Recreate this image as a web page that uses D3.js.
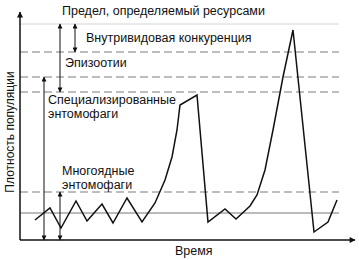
<!DOCTYPE html>
<html>
<head>
<meta charset="utf-8">
<script src="https://cdn.jsdelivr.net/npm/d3@7"></script>
<style>
  body { margin: 0; background: #fff; }
  text { font-family: "Liberation Sans", Arial, sans-serif; fill: #111; }
</style>
</head>
<body>
<script>
// time points and population density (arbitrary units)
var time    = [15, 30, 41, 56, 67, 82, 93, 107, 122, 135, 145, 152, 157, 160, 177, 188, 205, 216, 230, 237, 245, 253, 263, 273, 294, 308, 317];
var density = [20, 32, 12, 39, 19, 36, 17, 42, 18, 37, 60, 83, 110, 135, 145, 18, 31, 21, 34, 45, 70, 110, 163, 210, 8, 18, 40];

// reference levels
var levelLimit   = 216;   // limit set by resources
var levelDashed  = [188, 163, 148, 48];
var levelLow     = 27;

// range arrows: [time, from, to]
var rangeArrows = [[55, 216, 188], [40, 216, 148], [24, 163, 0], [40, 48, 0]];

var labels = [
  {t: 42, d: 225, s: "Предел, определяемый ресурсами"},
  {t: 66, d: 198, s: "Внутривидовая конкуренция"},
  {t: 45, d: 173, s: "Эпизоотии"},
  {t: 28, d: 136, s: "Специализированные"},
  {t: 28, d: 122, s: "энтомофаги"},
  {t: 42, d: 65, s: "Многоядные"},
  {t: 42, d: 51, s: "энтомофаги"}
];

var W = 359, H = 260;
var x = d3.scaleLinear().domain([0, 335]).range([20, 355]);
var y = d3.scaleLinear().domain([0, 230]).range([240, 10]);
var xEnd = x(319);

var svg = d3.select("body").append("svg").attr("width", W).attr("height", H);

var defs = svg.append("defs");
defs.append("marker").attr("id", "big")
  .attr("viewBox", "0 0 10 10").attr("refX", 9).attr("refY", 5)
  .attr("markerWidth", 9).attr("markerHeight", 6).attr("markerUnits", "userSpaceOnUse")
  .attr("orient", "auto")
  .append("path").attr("d", "M0,0 L10,5 L0,10 Z").attr("fill", "#111");
defs.append("marker").attr("id", "small")
  .attr("viewBox", "0 0 10 10").attr("refX", 9).attr("refY", 5)
  .attr("markerWidth", 8).attr("markerHeight", 5).attr("markerUnits", "userSpaceOnUse")
  .attr("orient", "auto-start-reverse")
  .append("path").attr("d", "M0,0 L10,5 L0,10 Z").attr("fill", "#111");

// level lines
svg.append("line")
  .attr("x1", x(0)).attr("x2", xEnd)
  .attr("y1", y(levelLimit)).attr("y2", y(levelLimit))
  .attr("stroke", "#d4d4d4").attr("stroke-width", 1);

svg.selectAll(".dash").data(levelDashed).join("line")
  .attr("class", "dash")
  .attr("x1", x(0)).attr("x2", xEnd)
  .attr("y1", d => y(d)).attr("y2", d => y(d))
  .attr("stroke", "#a8a8a8").attr("stroke-width", 1.5)
  .attr("stroke-dasharray", "8,4");

svg.append("line")
  .attr("x1", x(0)).attr("x2", xEnd)
  .attr("y1", y(levelLow)).attr("y2", y(levelLow))
  .attr("stroke", "#777").attr("stroke-width", 1);

// range arrows
svg.selectAll(".rng").data(rangeArrows).join("line")
  .attr("class", "rng")
  .attr("x1", d => x(d[0])).attr("x2", d => x(d[0]))
  .attr("y1", d => y(d[1])).attr("y2", d => y(d[2]))
  .attr("stroke", "#111").attr("stroke-width", 1)
  .attr("marker-start", "url(#small)").attr("marker-end", "url(#small)");

// axes
svg.append("line")
  .attr("x1", x(0)).attr("x2", x(0)).attr("y1", y(0)).attr("y2", y(228))
  .attr("stroke", "#111").attr("stroke-width", 1.5).attr("marker-end", "url(#big)");
svg.append("line")
  .attr("x1", x(0)).attr("x2", x(335)).attr("y1", y(0)).attr("y2", y(0))
  .attr("stroke", "#111").attr("stroke-width", 1.5).attr("marker-end", "url(#big)");

// series
var line = d3.line().x((d, i) => x(time[i])).y(d => y(d));
svg.append("path").datum(density)
  .attr("d", line)
  .attr("fill", "none").attr("stroke", "#111").attr("stroke-width", 1.5)
  .attr("stroke-linejoin", "miter");

// labels
svg.selectAll(".lbl").data(labels).join("text")
  .attr("class", "lbl")
  .attr("x", d => x(d.t)).attr("y", d => y(d.d))
  .attr("font-size", 12.5)
  .text(d => d.s);

svg.append("text")
  .attr("x", 175).attr("y", 255)
  .attr("font-size", 12.5)
  .text("Время");

svg.append("text")
  .attr("transform", "translate(14,132) rotate(-90)")
  .attr("text-anchor", "middle")
  .attr("font-size", 12)
  .text("Плотность популяции");
</script>
</body>
</html>
